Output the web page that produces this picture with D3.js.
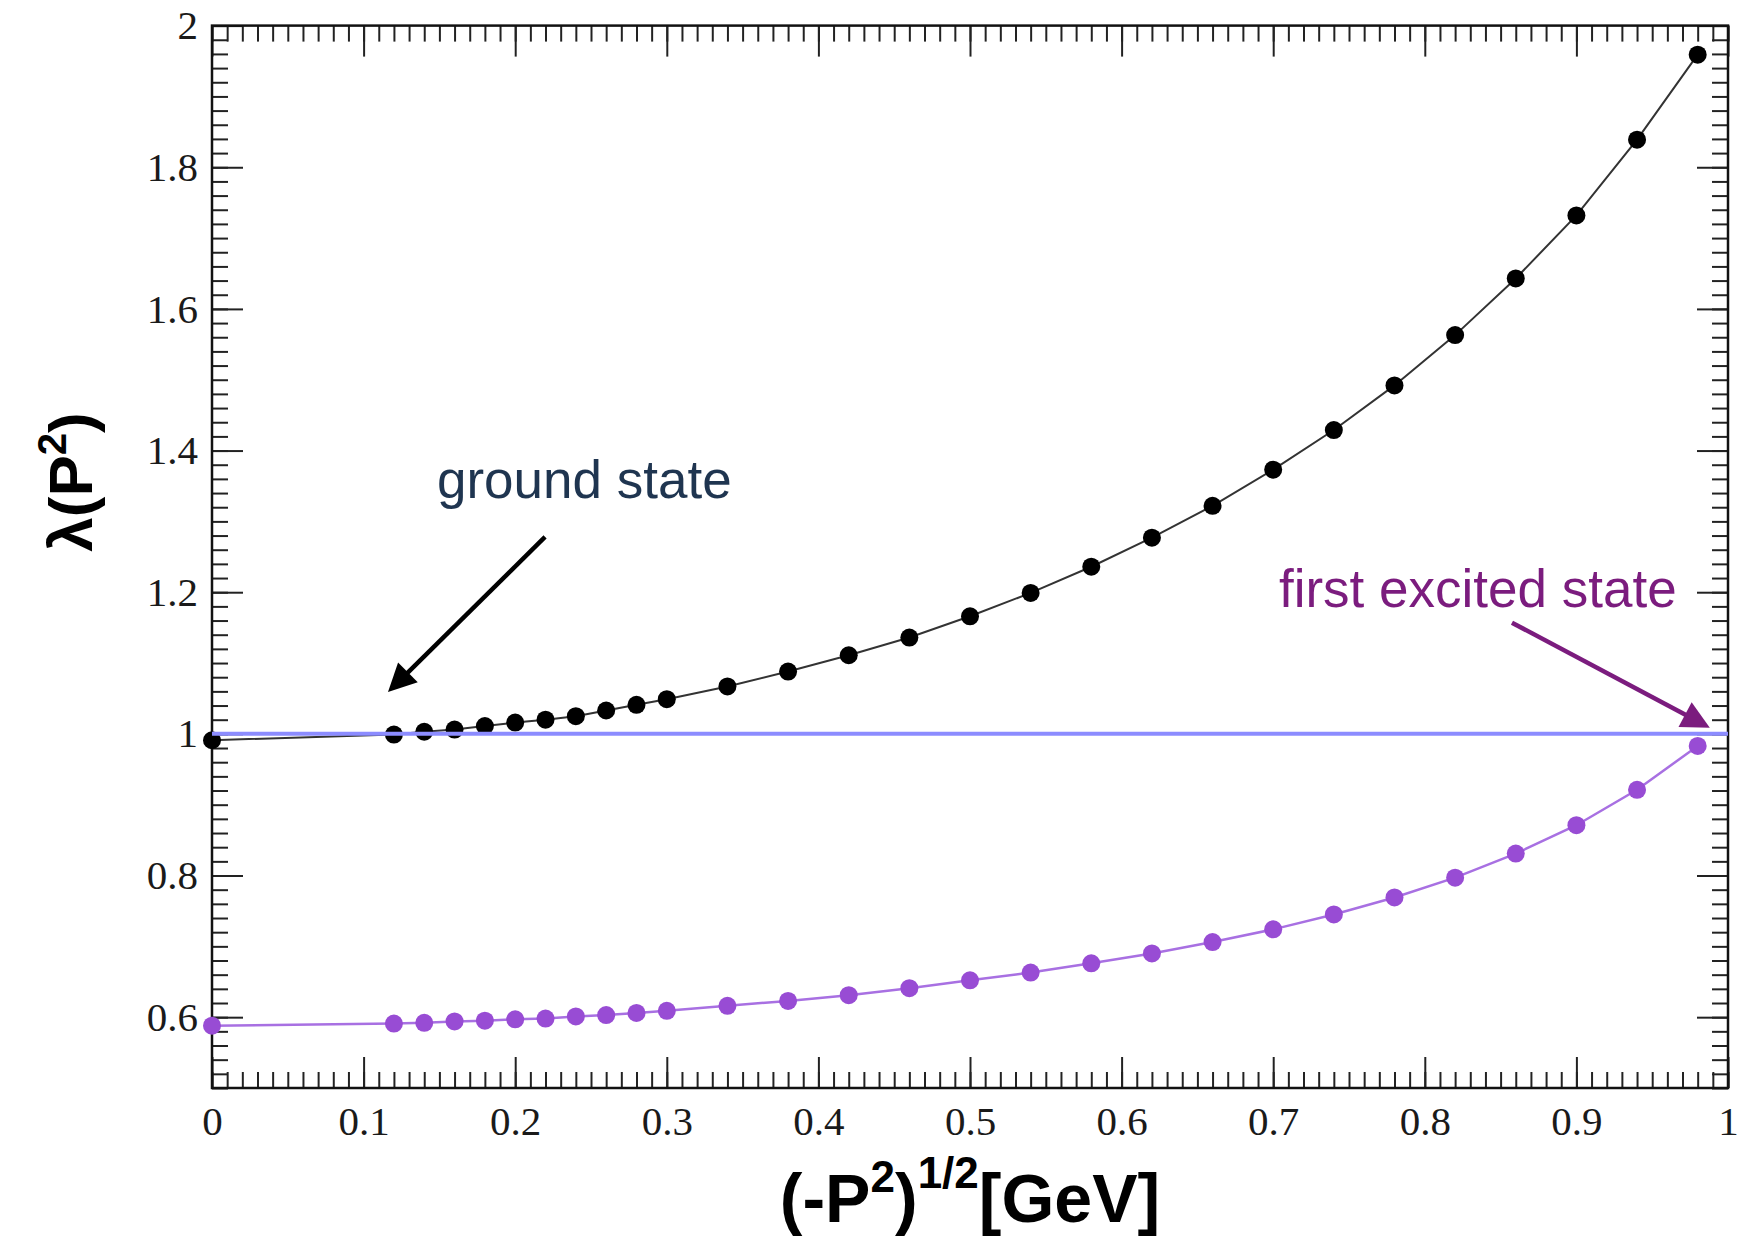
<!DOCTYPE html>
<html>
<head>
<meta charset="utf-8">
<script src="https://cdn.jsdelivr.net/npm/d3@7"></script>
<style>
  body { margin: 0; background: #fff; }
</style>
</head>
<body>
<svg id="chart"></svg>
<script>
// momentum values (x) shared by both states
var pValues = [0, 0.12, 0.14, 0.16, 0.18, 0.20, 0.22, 0.24, 0.26, 0.28, 0.30,
  0.34, 0.38, 0.42, 0.46, 0.50, 0.54, 0.58, 0.62, 0.66, 0.70, 0.74, 0.78,
  0.82, 0.86, 0.90, 0.94, 0.98];

// ground state eigenvalue
var groundValues = [0.991, 0.999, 1.003, 1.006, 1.011, 1.016, 1.020, 1.025,
  1.033, 1.041, 1.049, 1.067, 1.088, 1.111, 1.136, 1.166, 1.199, 1.236,
  1.277, 1.322, 1.373, 1.429, 1.492, 1.563, 1.643, 1.732, 1.839, 1.959];

// first excited state eigenvalue
var excitedValues = [0.588, 0.591, 0.592, 0.594, 0.595, 0.597, 0.598, 0.601,
  0.603, 0.606, 0.609, 0.616, 0.623, 0.631, 0.641, 0.652, 0.663, 0.676,
  0.690, 0.706, 0.724, 0.745, 0.769, 0.797, 0.831, 0.871, 0.921, 0.983];

var refLevel = [1];

var xTicks = [0, 0.1, 0.2, 0.3, 0.4, 0.5, 0.6, 0.7, 0.8, 0.9, 1];
var yTicks = [0.6, 0.8, 1, 1.2, 1.4, 1.6, 1.8, 2];

var width = 1738, height = 1239;
var margin = { top: 25.6, right: 10, bottom: 151, left: 212 };

var svg = d3.select("#chart").attr("width", width).attr("height", height);

var x = d3.scaleLinear().domain([0, 1]).range([margin.left, width - margin.right]);
var y = d3.scaleLinear().domain([0.5, 2]).range([height - margin.bottom, margin.top]);

var fmt = function (d) { return String(+d.toFixed(1)); };
var xMinor = d3.range(0, 1.0001, 0.01);
var yMinor = d3.range(0.5, 2.0001, 0.02);

function styleAxis(g) {
  g.select(".domain").remove();
  g.selectAll("line").attr("stroke", "#222").attr("stroke-width", 2);
  g.selectAll("text")
    .attr("font-family", "'Liberation Serif', 'Times New Roman', serif")
    .attr("font-size", 41)
    .attr("fill", "#1a1a1a");
}

// minor ticks on all four sides
svg.append("g").attr("transform", "translate(0," + y(0.5) + ")")
  .call(d3.axisBottom(x).tickValues(xMinor).tickSize(-16).tickFormat(""))
  .call(styleAxis);
svg.append("g").attr("transform", "translate(0," + y(2) + ")")
  .call(d3.axisTop(x).tickValues(xMinor).tickSize(-16).tickFormat(""))
  .call(styleAxis);
svg.append("g").attr("transform", "translate(" + x(0) + ",0)")
  .call(d3.axisLeft(y).tickValues(yMinor).tickSize(-16).tickFormat(""))
  .call(styleAxis);
svg.append("g").attr("transform", "translate(" + x(1) + ",0)")
  .call(d3.axisRight(y).tickValues(yMinor).tickSize(-16).tickFormat(""))
  .call(styleAxis);

// major ticks
svg.append("g").attr("transform", "translate(0," + y(0.5) + ")")
  .call(d3.axisBottom(x).tickValues(xTicks).tickSize(-31).tickPadding(18).tickFormat(fmt))
  .call(styleAxis);
svg.append("g").attr("transform", "translate(0," + y(2) + ")")
  .call(d3.axisTop(x).tickValues(xTicks).tickSize(-31).tickFormat(""))
  .call(styleAxis);
svg.append("g").attr("transform", "translate(" + x(0) + ",0)")
  .call(d3.axisLeft(y).tickValues(yTicks).tickSize(-31).tickPadding(14).tickFormat(fmt))
  .call(styleAxis);
svg.append("g").attr("transform", "translate(" + x(1) + ",0)")
  .call(d3.axisRight(y).tickValues(yTicks).tickSize(-31).tickFormat(""))
  .call(styleAxis);

// frame
svg.append("rect")
  .attr("x", x(0)).attr("y", y(2))
  .attr("width", x(1) - x(0)).attr("height", y(0.5) - y(2))
  .attr("fill", "none").attr("stroke", "#111").attr("stroke-width", 2.5);

var line = d3.line()
  .x(function (d) { return x(d[0]); })
  .y(function (d) { return y(d[1]); });

var excited = d3.zip(pValues, excitedValues);
var ground = d3.zip(pValues, groundValues);

svg.append("path").datum(excited)
  .attr("d", line).attr("fill", "none")
  .attr("stroke", "#a870e2").attr("stroke-width", 2.5);
svg.append("g").selectAll("circle").data(excited).enter().append("circle")
  .attr("cx", function (d) { return x(d[0]); })
  .attr("cy", function (d) { return y(d[1]); })
  .attr("r", 9).attr("fill", "#984cd4");

svg.append("path").datum(ground)
  .attr("d", line).attr("fill", "none")
  .attr("stroke", "#333").attr("stroke-width", 2);
svg.append("g").selectAll("circle").data(ground).enter().append("circle")
  .attr("cx", function (d) { return x(d[0]); })
  .attr("cy", function (d) { return y(d[1]); })
  .attr("r", 9).attr("fill", "#000");

// lambda = 1 line
svg.selectAll(".ref").data(refLevel).enter().append("line")
  .attr("class", "ref")
  .attr("x1", x(0)).attr("x2", x(1))
  .attr("y1", function (d) { return y(d); })
  .attr("y2", function (d) { return y(d); })
  .attr("stroke", "#8c8cff").attr("stroke-width", 4);

// annotation arrows
function arrow(x1, y1, x2, y2, color) {
  var px1 = x(x1), py1 = y(y1), px2 = x(x2), py2 = y(y2);
  var ang = Math.atan2(py2 - py1, px2 - px1);
  var len = 28, hw = 14;
  var bx = px2 - len * Math.cos(ang), by = py2 - len * Math.sin(ang);
  svg.append("line")
    .attr("x1", px1).attr("y1", py1).attr("x2", bx + 2 * Math.cos(ang)).attr("y2", by + 2 * Math.sin(ang))
    .attr("stroke", color).attr("stroke-width", 4.5);
  var pts = [
    [px2, py2],
    [bx + hw * Math.sin(ang), by - hw * Math.cos(ang)],
    [bx - hw * Math.sin(ang), by + hw * Math.cos(ang)]
  ];
  svg.append("polygon").attr("points", pts.map(function (p) { return p.join(","); }).join(" "))
    .attr("fill", color);
}

arrow(0.2197, 1.278, 0.1161, 1.059, "#000");
arrow(0.8575, 1.157, 0.988, 1.0086, "#7b1c7e");

svg.append("text")
  .attr("x", x(0.1484)).attr("y", y(1.333))
  .attr("font-family", "'Liberation Sans', Arial, sans-serif")
  .attr("font-size", 53).attr("fill", "#1f3550")
  .text("ground state");

svg.append("text")
  .attr("x", x(0.7038)).attr("y", y(1.179))
  .attr("font-family", "'Liberation Sans', Arial, sans-serif")
  .attr("font-size", 53).attr("fill", "#7b1c7e")
  .text("first excited state");

// axis titles
var xt = svg.append("text")
  .attr("x", 970).attr("y", 1222)
  .attr("text-anchor", "middle")
  .attr("font-family", "'Liberation Sans', Arial, sans-serif")
  .attr("font-weight", "bold").attr("font-size", 68).attr("fill", "#000");
xt.append("tspan").text("(-P");
xt.append("tspan").attr("dy", -30).attr("font-size", 44).text("2");
xt.append("tspan").attr("dy", 30).text(")");
xt.append("tspan").attr("dy", -34).attr("font-size", 44).text("1/2");
xt.append("tspan").attr("dy", 34).text("[GeV]");

var yt = svg.append("text")
  .attr("transform", "translate(92,482) rotate(-90)")
  .attr("text-anchor", "middle")
  .attr("font-family", "'Liberation Sans', Arial, sans-serif")
  .attr("font-weight", "bold").attr("font-size", 62).attr("fill", "#000");
yt.append("tspan").text("λ(P");
yt.append("tspan").attr("dy", -26).attr("font-size", 40).text("2");
yt.append("tspan").attr("dy", 26).text(")");
</script>
</body>
</html>
